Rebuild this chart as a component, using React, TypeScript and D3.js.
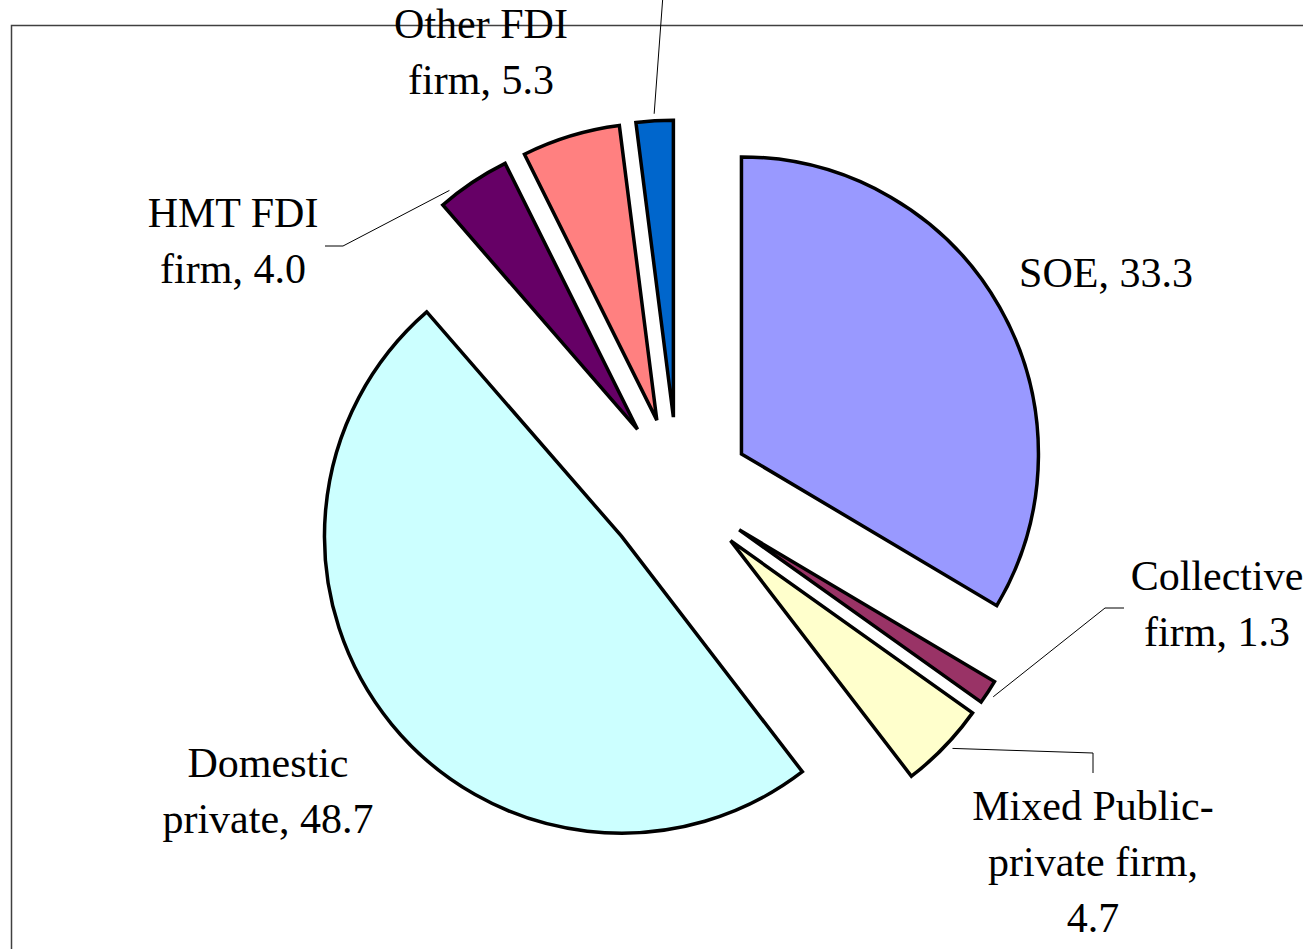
import { useEffect, useRef } from 'react'
import * as d3 from 'd3'

// slices go clockwise from 12 o'clock
const categories = ['SOE', 'Collective firm', 'Mixed Public-private firm', 'Domestic private', 'HMT FDI firm', 'Other FDI firm', 'Other']
const values = [33.3, 1.3, 4.7, 48.7, 4.0, 5.3, 2.0]
const colors = ['#9999FF', '#993366', '#FFFFCC', '#CCFFFF', '#660066', '#FF8080', '#0066CC']
// line breaks of each data label, {v} = value (last label sits above the visible area)
const labelTemplates = ['SOE, {v}', 'Collective\nfirm, {v}', 'Mixed Public-\nprivate firm,\n{v}', 'Domestic\nprivate, {v}', 'HMT FDI\nfirm, {v}', 'Other FDI\nfirm, {v}', '']

export default function App() {
  const ref = useRef<SVGSVGElement | null>(null)
  useEffect(() => {
    if (!ref.current) return
    const svg = d3.select(ref.current)
    svg.selectAll('*').remove()
    const width = 1303
    const height = 949
    const cx = 678
    const cy = 490
    const r = 297
    const explode = 73

    // label anchors (first baseline), leader elbows and where on the slice the leader starts
    const labelPos: ([number, number] | null)[] = [[1106, 287], [1217, 590], [1093, 820], [268, 777], [233, 227], [481, 38], null]
    const leaders: ([number, number][] | null)[] = [
      null,
      [[1105, 608], [1124, 608]],
      [[1093, 753], [1093, 773]],
      null,
      [[343, 246], [325, 246]],
      null,
      [[663, -5]],
    ]
    const leaderFrac = [0.5, 0.55, 0.45, 0.5, 0.19, 0.5, 0.5]

    svg
      .append('path')
      .attr('d', `M11.5,${height + 5}V25.5H${width + 5}`)
      .attr('fill', 'none')
      .attr('stroke', '#404040')
      .attr('stroke-width', 1.5)

    const pie = d3.pie<number>().sort(null).value((d) => d)
    const arcs = pie(values)
    const arc = d3.arc<d3.PieArcDatum<number>>().innerRadius(0).outerRadius(r)
    const mid = (d: d3.PieArcDatum<number>) => (d.startAngle + d.endAngle) / 2
    const shift = (d: d3.PieArcDatum<number>): [number, number] => [Math.sin(mid(d)) * explode, -Math.cos(mid(d)) * explode]

    const g = svg.append('g').attr('transform', `translate(${cx},${cy})`)
    g.selectAll('path')
      .data(arcs)
      .enter()
      .append('path')
      .attr('d', arc)
      .attr('transform', (d) => `translate(${shift(d)})`)
      .attr('fill', (d, i) => colors[i])
      .attr('stroke', '#000')
      .attr('stroke-width', 3.5)
      .attr('stroke-linejoin', 'miter')

    const line = d3.line()
    arcs.forEach((d, i) => {
      const pts = leaders[i]
      if (!pts) return
      const a = d.startAngle + (d.endAngle - d.startAngle) * leaderFrac[i]
      const [sx, sy] = shift(d)
      const rr = r + 7
      const start: [number, number] = [cx + sx + Math.sin(a) * rr, cy + sy - Math.cos(a) * rr]
      svg
        .append('path')
        .attr('d', line([start, ...pts]))
        .attr('fill', 'none')
        .attr('stroke', '#000')
        .attr('stroke-width', 1)
    })

    arcs.forEach((d, i) => {
      const pos = labelPos[i]
      if (!pos || !labelTemplates[i]) return
      const lines = labelTemplates[i].replace('{v}', values[i].toFixed(1)).split('\n')
      const t = svg
        .append('text')
        .attr('text-anchor', 'middle')
        .attr('font-family', '"Liberation Serif", "Times New Roman", serif')
        .attr('font-size', 42)
        .attr('fill', '#000')
        .attr('aria-label', categories[i])
      lines.forEach((s, k) => {
        t.append('tspan').attr('x', pos[0]).attr('y', pos[1] + k * 56).text(s)
      })
    })
  }, [])
  return <svg ref={ref} width={1303} height={949} style={{ position: 'absolute', left: 0, top: 0, background: '#fff' }} />
}
